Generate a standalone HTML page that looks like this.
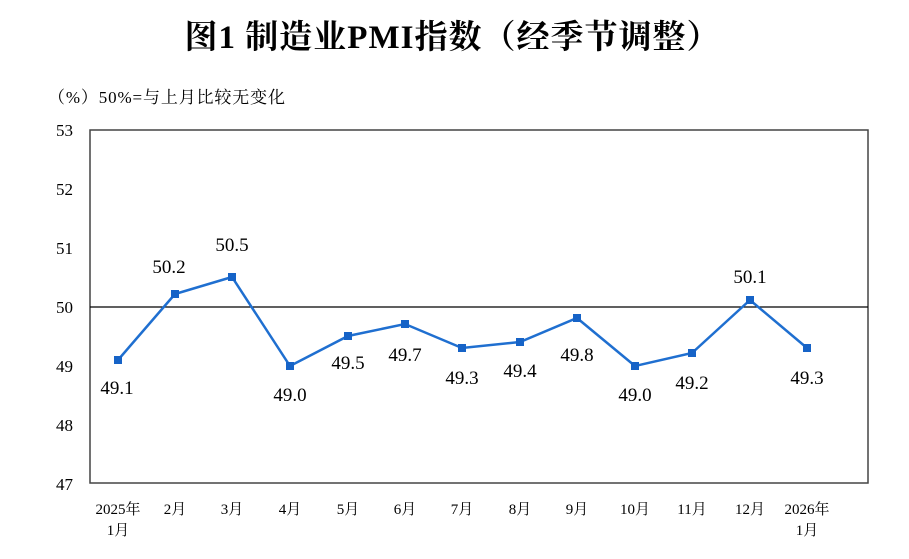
<!DOCTYPE html>
<html><head><meta charset="utf-8"><style>
body{margin:0;background:#fff;width:909px;height:559px;overflow:hidden}
svg{display:block}
text{font-family:"Liberation Serif","Noto Serif CJK SC",serif;fill:#000}
</style></head><body>
<svg width="909" height="559" viewBox="0 0 909 559">
<text x="452" y="48" text-anchor="middle" font-size="33" font-weight="bold" textLength="535" font-family="'Liberation Serif','Noto Serif CJK SC',serif">图1  制造业PMI指数（经季节调整）</text>
<text x="48" y="103" font-size="17" textLength="237">（%）50%=与上月比较无变化</text>
<rect x="90" y="130" width="778" height="353" fill="none" stroke="#444" stroke-width="1.5"/>
<line x1="90" y1="307" x2="868" y2="307" stroke="#000" stroke-width="1.3"/>
<g font-size="17" text-anchor="end">
<text x="73" y="136">53</text><text x="73" y="195">52</text><text x="73" y="254">51</text><text x="73" y="313">50</text><text x="73" y="372">49</text><text x="73" y="431">48</text><text x="73" y="490">47</text>
</g>
<g font-size="15" text-anchor="middle">
<text x="118" y="514">2025年</text><text x="118" y="535">1月</text>
<text x="175" y="514">2月</text><text x="232" y="514">3月</text><text x="290" y="514">4月</text><text x="348" y="514">5月</text><text x="405" y="514">6月</text><text x="462" y="514">7月</text><text x="520" y="514">8月</text><text x="577" y="514">9月</text><text x="635" y="514">10月</text><text x="692" y="514">11月</text><text x="750" y="514">12月</text>
<text x="807" y="514">2026年</text><text x="807" y="535">1月</text>
</g>
<polyline fill="none" stroke="#1f6fd0" stroke-width="2.5" points="118,360 175,294 232,277 290,366 348,336 405,324 462,348 520,342 577,318 635,366 692,353 750,300 807,348"/>
<g fill="#1663c7">
<rect x="114" y="356" width="8" height="8"/><rect x="171" y="290" width="8" height="8"/><rect x="228" y="273" width="8" height="8"/><rect x="286" y="362" width="8" height="8"/><rect x="344" y="332" width="8" height="8"/><rect x="401" y="320" width="8" height="8"/><rect x="458" y="344" width="8" height="8"/><rect x="516" y="338" width="8" height="8"/><rect x="573" y="314" width="8" height="8"/><rect x="631" y="362" width="8" height="8"/><rect x="688" y="349" width="8" height="8"/><rect x="746" y="296" width="8" height="8"/><rect x="803" y="344" width="8" height="8"/>
</g>
<g font-size="19" text-anchor="middle">
<text x="117" y="394">49.1</text><text x="169" y="273">50.2</text><text x="232" y="251">50.5</text><text x="290" y="401">49.0</text><text x="348" y="369">49.5</text><text x="405" y="361">49.7</text><text x="462" y="384">49.3</text><text x="520" y="377">49.4</text><text x="577" y="361">49.8</text><text x="635" y="401">49.0</text><text x="692" y="389">49.2</text><text x="750" y="283">50.1</text><text x="807" y="384">49.3</text>
</g>
</svg>
</body></html>
